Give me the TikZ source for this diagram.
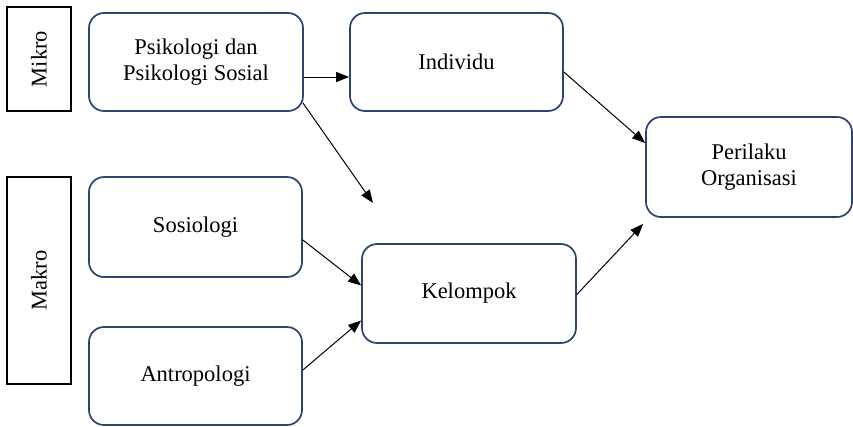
\documentclass[tikz,border=0pt]{standalone}
\usepackage{fontspec}
\setmainfont{Liberation Serif}
\usepackage{tikz}
\usetikzlibrary{arrows.meta,calc}
\definecolor{boxblue}{HTML}{2E4470}
\tikzset{
  block/.style={draw=boxblue, line width=1.7pt, rounded corners=15pt, align=center,
    minimum width=213pt, minimum height=98pt, inner sep=0pt,
    font=\fontsize{22.5}{26}\selectfont},
  level/.style={draw=black, line width=1.7pt, rotate=90, inner sep=0pt,
    font=\fontsize{22.5}{26}\selectfont},
  link/.style={-{Triangle[length=13pt,width=10pt]}, line width=1pt, black},
}
\begin{document}
\begin{tikzpicture}[x=1pt,y=-1pt]
  \useasboundingbox (0,0) rectangle (853,426);
  % levels
  \node[level, minimum width=104pt, minimum height=64pt] (mikro) at (39,59) {Mikro};
  \node[level, minimum width=207pt, minimum height=64pt] (makro) at (39,280.5) {Makro};
  % disciplines
  \node[block, minimum width=214pt] (psi) at (196,62) {Psikologi dan\\Psikologi Sosial};
  \node[block, minimum height=100pt] (sos) at (195.5,227) {Sosiologi};
  \node[block] (ant) at (195.5,376) {Antropologi};
  % units
  \node[block] (ind) at (456.5,62) {Individu};
  \node[block, minimum width=214pt, minimum height=99pt] (kel) at (469,293.5) {Kelompok};
  \node[block, minimum width=206pt, minimum height=100pt] (per) at (749,167) {Perilaku\\Organisasi};
  \coordinate (loose) at (373,203);
  % links
  \draw[link] ([yshift=-15pt]psi.east) -- ([yshift=-15pt]ind.west);
  \draw[link] ([xshift=-1pt,yshift=9pt]psi.south east) -- (loose);
  \draw[link] ([yshift=-10pt]ind.east) -- ([yshift=24pt]per.west);
  \draw[link] ([yshift=-13pt]sos.east) -- ([yshift=8pt]kel.west);
  \draw[link] ([yshift=6pt]ant.east) -- ([yshift=-27pt]kel.west);
  \draw[link] ([yshift=-1pt]kel.east) -- ([xshift=-2pt,yshift=-6pt]per.south west);
\end{tikzpicture}
\end{document}
